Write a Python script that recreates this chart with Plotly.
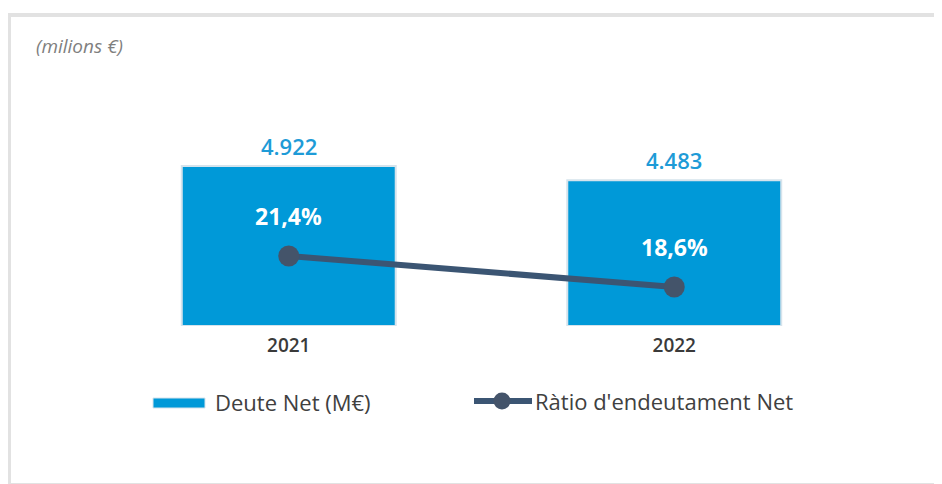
import plotly.graph_objects as go

years = ["2021", "2022"]
deute_net = [4922, 4483]
ratio = [21.4, 18.6]
unit_note = "(milions €)"
bar_name = "Deute Net (M€)"
line_name = "Ràtio d'endeutament Net"

BAR_COLOR = "#0099D8"
LINE_COLOR = "#3B5573"
MARKER_COLOR = "#44546A"
VALUE_COLOR = "#1E9BD7"
TEXT_GRAY = "#404040"
FONT = "Open Sans"

OFF = 8  # page body margin offset
W, H = 942 - OFF, 484 - OFF
L, T = 96 - OFF, 100 - OFF
PW, PH = 771, 226
R = W - L - PW
B = H - T - PH


def px(xp):
    return (xp - OFF - L) / PW


def py(yp):
    return (T + PH - (yp - OFF)) / PH


fig = go.Figure()
fig.add_trace(go.Bar(
    x=years, y=deute_net, name=bar_name,
    marker=dict(color=BAR_COLOR, line=dict(color="#D5E3EC", width=2)),
    showlegend=False, hoverinfo="skip",
))
fig.add_trace(go.Scatter(
    x=years, y=ratio, name=line_name, yaxis="y2", mode="lines+markers",
    line=dict(color=LINE_COLOR, width=6),
    marker=dict(color=MARKER_COLOR, size=21),
    showlegend=False, hoverinfo="skip",
))

annotations = []
for i, v in enumerate(deute_net):
    annotations.append(dict(
        x=i, y=v, xref="x", yref="y", text=f"{v:,}".replace(",", "."),
        showarrow=False, yanchor="middle", yshift=20,
        font=dict(family=FONT, size=22, color=VALUE_COLOR, weight=600),
    ))
for i, r in enumerate(ratio):
    annotations.append(dict(
        x=i, y=r, xref="x", yref="y2", text=f"{r:.1f}".replace(".", ",") + "%",
        showarrow=False, yanchor="middle", yshift=40,
        font=dict(family=FONT, size=23, color="white", weight=700),
    ))
annotations.append(dict(
    x=px(34), y=py(46), xref="paper", yref="paper", text=unit_note,
    showarrow=False, xanchor="left", yanchor="middle",
    font=dict(family=FONT, size=19, color="#7F7F7F", style="italic"),
))
annotations.append(dict(
    x=px(213), y=py(402), xref="paper", yref="paper", text=bar_name,
    showarrow=False, xanchor="left", yanchor="middle",
    font=dict(family=FONT, size=22, color=TEXT_GRAY),
))
annotations.append(dict(
    x=px(533), y=py(401), xref="paper", yref="paper", text=line_name,
    showarrow=False, xanchor="left", yanchor="middle",
    font=dict(family=FONT, size=22, color=TEXT_GRAY),
))

shapes = [
    dict(type="rect", xref="paper", yref="paper",
         x0=px(9), x1=px(960), y0=py(485), y1=py(15),
         line=dict(color="#E2E2E2", width=4), fillcolor="rgba(0,0,0,0)", layer="below"),
    dict(type="rect", xref="paper", yref="paper",
         x0=px(153), x1=px(205), y0=py(408), y1=py(398),
         line=dict(color="#D5E3EC", width=1), fillcolor=BAR_COLOR),
    dict(type="line", xref="paper", yref="paper",
         x0=px(474), x1=px(532), y0=py(401), y1=py(401),
         line=dict(color=LINE_COLOR, width=6)),
    dict(type="circle", xref="paper", yref="paper",
         xsizemode="pixel", ysizemode="pixel",
         xanchor=px(502), yanchor=py(401),
         x0=-8.5, x1=8.5, y0=-8.5, y1=8.5,
         line=dict(color=MARKER_COLOR, width=0), fillcolor=MARKER_COLOR),
]

fig.update_layout(
    width=W, height=H,
    margin=dict(l=L, r=R, t=T, b=B, pad=0),
    paper_bgcolor="white", plot_bgcolor="white",
    bargap=0.445,
    showlegend=False,
    xaxis=dict(type="category", range=[-0.5, 1.5], showgrid=False, zeroline=False,
               showline=False, ticks="", ticklabelstandoff=6,
               tickfont=dict(family=FONT, size=19, color="#3A3A3A", weight=600)),
    yaxis=dict(range=[0, 6952], visible=False, showgrid=False, zeroline=False),
    yaxis2=dict(range=[15.077, 35.49], overlaying="y", side="right", visible=False,
                showgrid=False, zeroline=False),
    annotations=annotations,
    shapes=shapes,
)

fig.write_html("out.html")
